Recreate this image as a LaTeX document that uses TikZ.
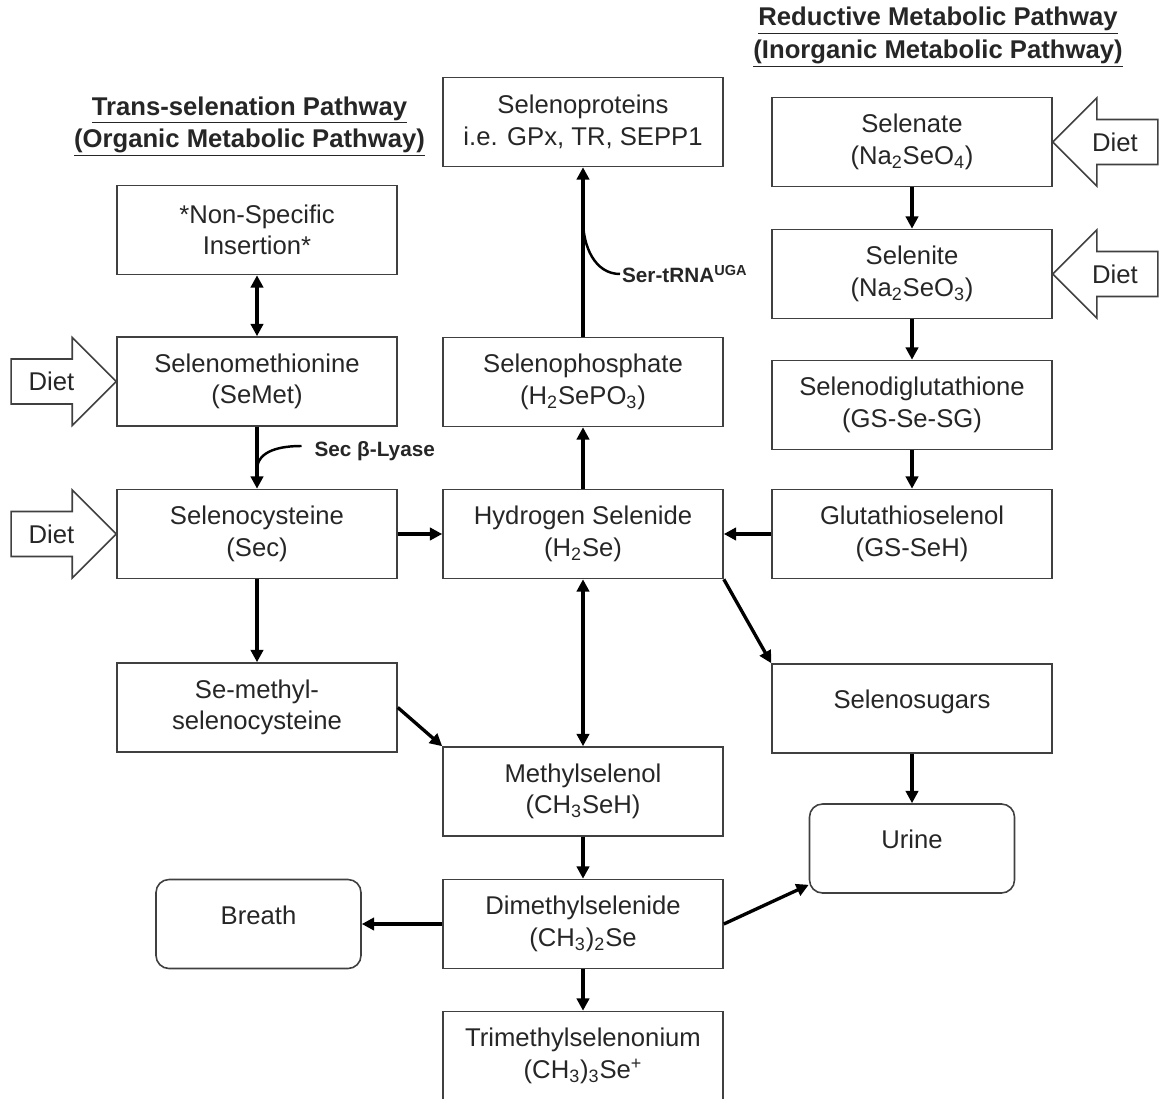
\documentclass[tikz,border=0pt]{standalone}
\usepackage{fontspec}
\setmainfont{Liberation Sans}
\usetikzlibrary{arrows.meta}

\begin{document}
\begin{tikzpicture}[>={Triangle[length=7pt,width=7pt]},
  flow/.style={->,draw=black,line width=1.9pt},
  chem node/.style={rectangle,draw=black!75,line width=0.9pt,minimum width=5.6cm,minimum height=1.78cm,align=center,text=black!85,font=\fontsize{14.6}{18}\selectfont},
  one line/.style={text height=11pt,text depth=11pt},
  exit node/.style={chem node,one line,rounded corners=0.26cm,minimum width=4.1cm},
  title node/.style={align=center,text=black!85,font=\fontsize{14.6}{18.5}\selectfont\bfseries},
  enzyme node/.style={inner sep=1pt,text=black!85,font=\fontsize{11.8}{14}\selectfont\bfseries},
  diet arrow/.style={draw=black!75,line width=0.9pt,fill=white},
  diet node/.style={text=black!85,font=\fontsize{14.6}{18}\selectfont}]
  \useasboundingbox (0,0) rectangle (23.22,-21.98);
  \clip (0,0) rectangle (23.22,-21.98);
  % middle column
  \node[chem node] (h2se) at (11.66,-10.68) {Hydrogen Selenide\\(H\textsubscript{2}Se)};
  \node[chem node] (sephos) [above of=h2se,node distance=3.04cm] {Selenophosphate\\(H\textsubscript{2}SePO\textsubscript{3})};
  \node[chem node] (seprot) [above of=sephos,node distance=5.2cm] {Selenoproteins\\i.e. GPx, TR, SEPP1};
  \node[chem node] (mesel) [below of=h2se,node distance=5.15cm] {Methylselenol\\(CH\textsubscript{3}SeH)};
  \node[chem node] (dmse) [below of=mesel,node distance=2.65cm] {Dimethylselenide\\(CH\textsubscript{3})\textsubscript{2}Se};
  \node[chem node] (tmse) [below of=dmse,node distance=2.64cm] {Trimethylselenonium\\(CH\textsubscript{3})\textsubscript{3}Se\textsuperscript{+}};
  % left column
  \node[chem node] (sec) [left of=h2se,node distance=6.52cm] {Selenocysteine\\(Sec)};
  \node[chem node] (semet) [above of=sec,node distance=3.05cm] {Selenomethionine\\(SeMet)};
  \node[chem node] (nsi) [above of=semet,node distance=3.03cm] {*Non-Specific\\Insertion*};
  \node[chem node] (mesec) [below of=sec,node distance=3.47cm] {Se-methyl-\\selenocysteine};
  \node[exit node] (breath) [left of=dmse,node distance=6.49cm] {Breath};
  % right column
  \node[chem node] (gsseh) [right of=h2se,node distance=6.58cm] {Glutathioselenol\\(GS-SeH)};
  \node[chem node] (gssg) [above of=gsseh,node distance=2.58cm] {Selenodiglutathione\\(GS-Se-SG)};
  \node[chem node] (selenite) [above of=gssg,node distance=2.62cm] {Selenite\\(Na\textsubscript{2}SeO\textsubscript{3})};
  \node[chem node] (selenate) [above of=selenite,node distance=2.64cm] {Selenate\\(Na\textsubscript{2}SeO\textsubscript{4})};
  \node[chem node,one line] (sugars) [below of=gsseh,node distance=3.49cm] {Selenosugars};
  \node[exit node] (urine) [below of=sugars,node distance=2.8cm] {Urine};
  % headings
  \node[title node] (organic) [above of=nsi,node distance=2.07cm,xshift=-0.15cm] {\underline{Trans-selenation Pathway}\\\underline{(Organic Metabolic Pathway)}};
  \node[title node] (inorganic) [above of=selenate,node distance=2.1cm,xshift=0.52cm] {\underline{Reductive Metabolic Pathway}\\\underline{(Inorganic Metabolic Pathway)}};
  % diet inputs
  \draw[diet arrow] (semet.west) -- ++(-0.88,0.88) -- ++(0,-0.43) -- ++(-1.22,0) -- ++(0,-0.9) -- ++(1.22,0) -- ++(0,-0.43) -- cycle;
  \draw[diet arrow] (sec.west) -- ++(-0.88,0.88) -- ++(0,-0.43) -- ++(-1.22,0) -- ++(0,-0.9) -- ++(1.22,0) -- ++(0,-0.43) -- cycle;
  \draw[diet arrow] (selenate.east) -- ++(0.88,0.88) -- ++(0,-0.43) -- ++(1.22,0) -- ++(0,-0.9) -- ++(-1.22,0) -- ++(0,-0.43) -- cycle;
  \draw[diet arrow] (selenite.east) -- ++(0.88,0.88) -- ++(0,-0.43) -- ++(1.22,0) -- ++(0,-0.9) -- ++(-1.22,0) -- ++(0,-0.43) -- cycle;
  \node[diet node] (diet1) [left of=semet,node distance=4.11cm] {Diet};
  \node[diet node] (diet2) [left of=sec,node distance=4.11cm] {Diet};
  \node[diet node] (diet3) [right of=selenate,node distance=4.06cm] {Diet};
  \node[diet node] (diet4) [right of=selenite,node distance=4.06cm] {Diet};
  % enzymes
  \coordinate (lyj) at ([yshift=-0.86cm]semet.south);
  \node[enzyme node,anchor=west] (lyase) at ([xshift=1.11cm,yshift=-1.39cm]semet.center) {Sec β-Lyase};
  \draw[line width=1.4pt] ([xshift=-0.22cm,yshift=0.1cm]lyase.west) to[out=180,in=90] (lyj);
  \coordinate (trj) at ([yshift=-1.06cm]seprot.south);
  \node[enzyme node,anchor=west] (trna) at ([xshift=0.74cm,yshift=2.16cm]sephos.center) {Ser-tRNA\textsuperscript{UGA}};
  \draw[line width=1.4pt] (trj) to[out=-90,in=180] (trna.west);
  % connectors
  \draw[flow,<->] (nsi.south) -- (semet.north);
  \draw[flow] (semet.south) -- (sec.north);
  \draw[flow] (sec.south) -- (mesec.north);
  \draw[flow] (sec.east) -- (h2se.west);
  \draw[flow] (mesec.east) -- (mesel.north west);
  \draw[flow] (h2se.north) -- (sephos.south);
  \draw[flow,<->] (h2se.south) -- (mesel.north);
  \draw[flow] (sephos.north) -- (seprot.south);
  \draw[flow] (mesel.south) -- (dmse.north);
  \draw[flow] (dmse.south) -- (tmse.north);
  \draw[flow] (dmse.west) -- (breath.east);
  \draw[flow] (dmse.east) -- ([yshift=0.18cm]urine.south west);
  \draw[flow] (h2se.south east) -- (sugars.north west);
  \draw[flow] (sugars.south) -- (urine.north);
  \draw[flow] (selenate.south) -- (selenite.north);
  \draw[flow] (selenite.south) -- (gssg.north);
  \draw[flow] (gssg.south) -- (gsseh.north);
  \draw[flow] (gsseh.west) -- (h2se.east);
\end{tikzpicture}
\end{document}
